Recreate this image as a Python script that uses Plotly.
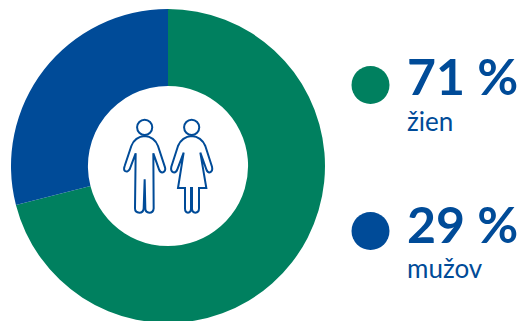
import plotly.graph_objects as go

# Share of respondents by gender
categories = ["ženy", "muži"]
shares = [71, 29]
value_labels = ["71 %", "29 %"]
group_labels = ["žien", "mužov"]
colors = ["#00805F", "#004B98"]

WIDTH, HEIGHT = 526, 325
INK = "#004B98"
FONT = "Lato"


def px_x(v):
    return v / WIDTH


def px_y(v):
    return 1 - v / HEIGHT


# Pictogram outlines, in canvas pixels after the 3:1 reduction below
MAN = [
    ("M", 164, 268), ("L", 161, 355), ("Q", 160, 368, 148, 368), ("Q", 135, 368, 135, 355),
    ("L", 137, 190), ("L", 119, 238), ("Q", 113, 248, 105, 243), ("Q", 100, 238, 104, 228),
    ("L", 124, 168), ("Q", 135, 140, 164, 138), ("Q", 193, 140, 204, 168), ("L", 225, 232),
    ("Q", 228, 243, 219, 247), ("Q", 211, 249, 207, 238), ("L", 190, 190), ("L", 191, 355),
    ("Q", 190, 368, 178, 368), ("Q", 166, 368, 166, 355), ("L", 164, 268), ("Z",),
]
WOMAN = [
    ("M", 305, 138), ("Q", 276, 140, 264, 168), ("L", 244, 230), ("Q", 241, 243, 250, 247),
    ("Q", 258, 249, 262, 238), ("L", 281, 188), ("L", 264, 294), ("L", 285, 294),
    ("L", 285, 355), ("Q", 285, 368, 294, 368), ("Q", 303, 368, 303, 355), ("L", 303, 294),
    ("L", 306, 294), ("L", 306, 355), ("Q", 306, 368, 316, 368), ("Q", 327, 368, 327, 355),
    ("L", 327, 294), ("L", 349, 294), ("L", 331, 188), ("L", 349, 238),
    ("Q", 353, 249, 360, 247), ("Q", 369, 243, 366, 230), ("L", 346, 168),
    ("Q", 334, 140, 305, 138), ("Z",),
]
HEADS = [(164, 112), (305, 112)]


def outline(segments):
    parts = []
    for seg in segments:
        coords = [
            f"{px_x(90 + v / 3):.5f}" if i % 2 == 0 else f"{px_y(90 + v / 3):.5f}"
            for i, v in enumerate(seg[1:])
        ]
        parts.append(seg[0] + " " + " ".join(coords))
    return " ".join(parts)


fig = go.Figure()

fig.add_trace(go.Pie(
    labels=categories,
    values=shares,
    hole=0.51,
    sort=False,
    direction="clockwise",
    rotation=0,
    textinfo="none",
    hoverinfo="label+percent",
    marker=dict(colors=colors, line=dict(width=0)),
    domain=dict(x=[px_x(11), px_x(325)], y=[px_y(323), px_y(9)]),
    showlegend=False,
))

shapes = []
for path in (MAN, WOMAN):
    shapes.append(dict(type="path", xref="paper", yref="paper", path=outline(path),
                       line=dict(color=INK, width=2), fillcolor="rgba(0,0,0,0)"))
for cx, cy in HEADS:
    x, y, r = 90 + cx / 3, 90 + cy / 3, 7.6
    shapes.append(dict(type="circle", xref="paper", yref="paper",
                       x0=px_x(x - r), x1=px_x(x + r), y0=px_y(y + r), y1=px_y(y - r),
                       line=dict(color=INK, width=2), fillcolor="rgba(0,0,0,0)"))

# Key dots beside the two figures
annotations = []
rows = [(85, 76, 121), (231, 224, 268)]
for (dot_y, value_y, label_y), color, value, label in zip(rows, colors, value_labels, group_labels):
    r = 19
    shapes.append(dict(type="circle", xref="paper", yref="paper",
                       x0=px_x(370.5 - r), x1=px_x(370.5 + r), y0=px_y(dot_y + r), y1=px_y(dot_y - r),
                       line=dict(width=0), fillcolor=color))
    annotations.append(dict(xref="paper", yref="paper", x=px_x(405), y=px_y(value_y), text=f"<b>{value}</b>",
                            showarrow=False, xanchor="left", yanchor="middle", height=44,
                            font=dict(family=FONT, size=50, color=INK)))
    annotations.append(dict(xref="paper", yref="paper", x=px_x(405), y=px_y(label_y), text=label,
                            showarrow=False, xanchor="left", yanchor="middle", height=26,
                            font=dict(family=FONT, size=26, color=INK)))

fig.update_layout(
    width=WIDTH,
    height=HEIGHT,
    margin=dict(l=0, r=0, t=0, b=0),
    paper_bgcolor="white",
    plot_bgcolor="white",
    shapes=shapes,
    annotations=annotations,
)

fig.write_html("out.html", config={"displayModeBar": False},
               post_script="document.documentElement.style.overflow='hidden';document.body.style.overflow='hidden';")
